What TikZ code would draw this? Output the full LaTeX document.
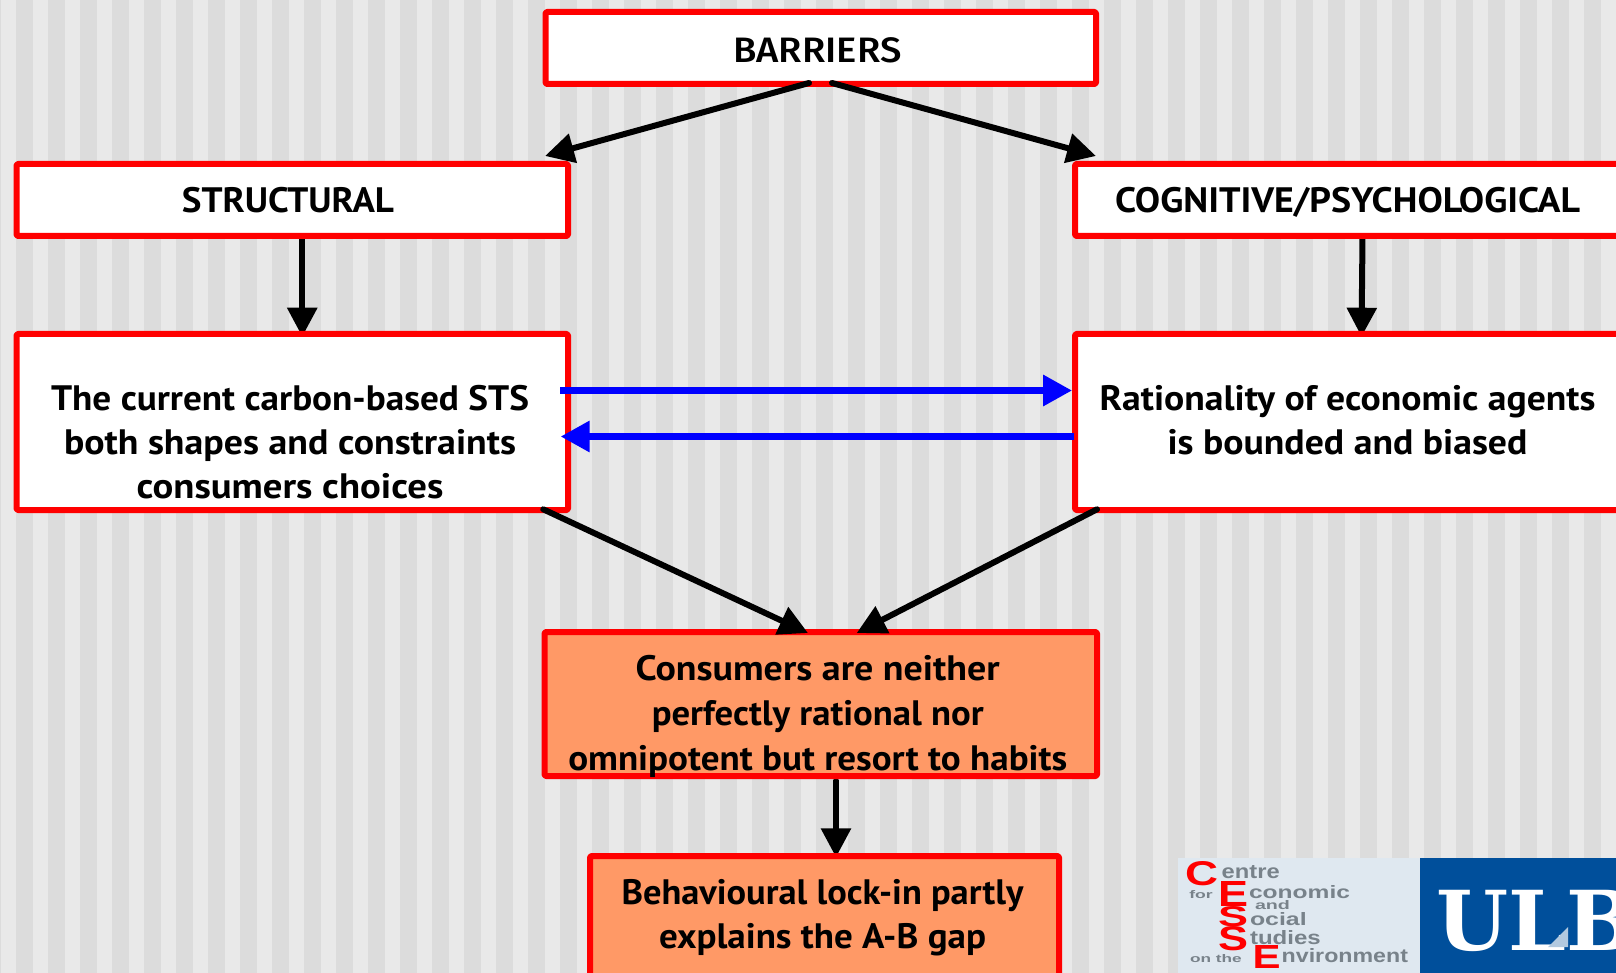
\documentclass[tikz,border=0pt]{standalone}
\usepackage{fontspec}
\usepackage{graphicx}
\usetikzlibrary{arrows.meta,calc}
\setmainfont{PT Sans}
\newfontfamily\barfont{Fira Sans Medium}
\newfontfamily\ulbfont{DejaVu Serif}
\newfontfamily\logofont{Liberation Sans}
\newlength\pxu
\setlength\pxu{0.75pt}
\definecolor{stripeA}{HTML}{E9E9E9}
\definecolor{stripeB}{HTML}{DCDCDC}
\definecolor{boxorange}{HTML}{FF9966}
\definecolor{cessbg}{HTML}{DFE8F0}
\definecolor{cessgrey}{HTML}{78828A}
\definecolor{ulbblue}{HTML}{004F9B}
\pgfdeclarelayer{stripes}
\pgfdeclarelayer{under}
\pgfsetlayers{stripes,under,main}
% #1 dx, #2 dy (px), #3 line spacing (px), #4 lines
\newcommand{\boxtext}[4]{\raisebox{#2\pxu}[0pt][0pt]{\makebox[0pt]{\hspace*{\dimexpr #1\pxu*2\relax}\fontsize{26.5}{\dimexpr #3\pxu\relax}\selectfont\bfseries\begin{tabular}[b]{@{}c@{}}#4\end{tabular}}}}
\newcommand{\lineW}[2]{\resizebox{#1\pxu}{\height}{#2}}
\newcommand{\logoW}[3]{\resizebox{#1\pxu}{#2\pxu}{#3}}
\tikzset{
  x=0.75pt,y=-0.75pt,
  flowbox/.style={draw=red,line width=6*0.75pt,fill=white,inner sep=0pt,outer sep=0pt,line join=round,rounded corners=1pt,text=black},
  orangebox/.style={flowbox,fill=boxorange},
  blackarrow/.style={draw=black,line width=6*0.75pt,line cap=round,-{Triangle[length=29*0.75pt,width=29*0.75pt]}},
  bluearrow/.style={draw=blue,line width=6.5*0.75pt,-{Triangle[length=29*0.75pt,width=30*0.75pt]}},
  logotext/.style={anchor=south west,inner sep=0pt,outer sep=0pt,text=cessgrey,font=\logofont\bfseries},
  logored/.style={anchor=south west,inner sep=0pt,outer sep=0pt,text=red,font=\logofont\bfseries},
}
\begin{document}
\begin{tikzpicture}
\useasboundingbox (0,0) rectangle (1616,973);
\begin{pgfonlayer}{stripes}
\fill[stripeA] (0,0) rectangle (1616,973);
\foreach \k in {-1,0,...,50} {\fill[stripeB] ({16+32*\k},0) rectangle ({33+32*\k},973);}
\end{pgfonlayer}

% boxes
\node[flowbox,minimum width=550.5*0.75pt,minimum height=72*0.75pt] (bar) at (820.75,48)
  {\boxtext{-3.25}{-15}{43.5}{\lineW{168}{\mdseries\barfont BARRIERS}}};
\node[flowbox,minimum width=551.5*0.75pt,minimum height=72*0.75pt] (struct) at (292.25,200)
  {\boxtext{-4.25}{-12.7}{43.5}{\lineW{212}{STRUCTURAL}}};
\node[flowbox,minimum width=552*0.75pt,minimum height=72*0.75pt] (cog) at (1351,200)
  {\boxtext{-3.5}{-13}{43.5}{\lineW{465}{COGNITIVE/PSYCHOLOGICAL}}};
\node[flowbox,minimum width=551.5*0.75pt,minimum height=176*0.75pt] (sts) at (292.25,422)
  {\boxtext{-2.25}{-76}{43.6}{\lineW{478}{The current carbon-based STS}\\\lineW{452}{both shapes and constraints}\\\lineW{307}{consumers choices}}};
\node[flowbox,minimum width=552*0.75pt,minimum height=176*0.75pt] (rat) at (1351,422)
  {\boxtext{-3.5}{-32}{43.5}{\lineW{496}{Rationality of economic agents}\\\lineW{360}{is bounded and biased}}};
\node[orangebox,minimum width=552.5*0.75pt,minimum height=144*0.75pt] (cons) at (820.75,704)
  {\boxtext{-3}{-66}{44.6}{\lineW{364}{Consumers are neither}\\\lineW{332}{perfectly rational nor}\\\lineW{499}{omnipotent but resort to habits}}};
\node[orangebox,minimum width=469*0.75pt,minimum height=144*0.75pt] (beh) at (824.5,928)
  {\boxtext{-2}{-20}{44}{\lineW{402}{Behavioural lock-in partly}\\\lineW{327}{explains the A-B gap}}};

% connectors
\draw[blackarrow] ($(bar.south)+(-11.75,-1)$) -- ($(struct.north)+(252.75,-8)$);
\draw[blackarrow] ($(bar.south)+(11.25,-1)$) -- ($(cog.north)+(-255,-8)$);
\begin{pgfonlayer}{under}
\draw[blackarrow] ($(struct.south)+(10,1)$) -- ($(sts.north)+(10,2.7)$);
\draw[blackarrow] ($(cog.south)+(11.5,1)$) -- ($(rat.north)+(10.5,2.7)$);
\draw[blackarrow] ($(cons.south)+(15.25,4.7)$) -- ($(beh.north)+(11.5,1.3)$);
\end{pgfonlayer}
\draw[blackarrow] ($(sts.south)+(251,-0.7)$) -- ($(cons.north)+(-12.75,1)$);
\draw[blackarrow] ($(rat.south)+(-254,-0.7)$) -- ($(cons.north)+(35.95,1)$);
\draw[bluearrow] ($(sts.east)+(-8,-31.5)$) -- ($(rat.west)+(-3,-31.5)$);
\draw[bluearrow] ($(rat.west)+(-1,14.5)$) -- ($(sts.east)+(-7.3,14.5)$);

% logos
\fill[cessbg] (1178,858) rectangle (1420,973);
\fill[ulbblue] (1420,858) rectangle (1616,973);
\node[logored] (cC) at (1185,886) {\logoW{33}{24}{C}};
\node[logored] (cE) at (1218,906.7) {\logoW{30}{25}{E}};
\node[logored] (cS) at (1218,926.7) {\logoW{30}{20}{S}};
\node[logored] (cSb) at (1218,950.7) {\logoW{30}{24}{S}};
\node[logored] (cEb) at (1252.7,968.3) {\logoW{28}{23}{E}};
\node[logotext] (t1) at (1221.7,879) {\logoW{58}{13}{entre}};
\node[logotext] (t2) at (1189.3,898.3) {\logoW{23.4}{8}{for}};
\node[logotext] (t3) at (1249,898.3) {\logoW{101}{13}{conomic}};
\node[logotext] (t4) at (1255,910) {\logoW{35}{9}{and}};
\node[logotext] (t5) at (1250,925.7) {\logoW{56.7}{13}{ocial}};
\node[logotext] (t6) at (1250,945) {\logoW{70.7}{14}{tudies}};
\node[logotext] (t7) at (1190,962.7) {\logoW{51.7}{8}{on the}};
\node[logotext] (t8) at (1281.7,962.7) {\logoW{126.3}{14}{nvironment}};
\node[anchor=base west,inner sep=0pt,outer sep=0pt,text=white] (ulb) at (1436,950.7) {\fontsize{62}{62}\selectfont\ulbfont\bfseries ULB};
\fill[cessbg!80!ulbblue] (1548,947) -- (1568,927) -- (1568,947) -- cycle;
\end{tikzpicture}
\end{document}
